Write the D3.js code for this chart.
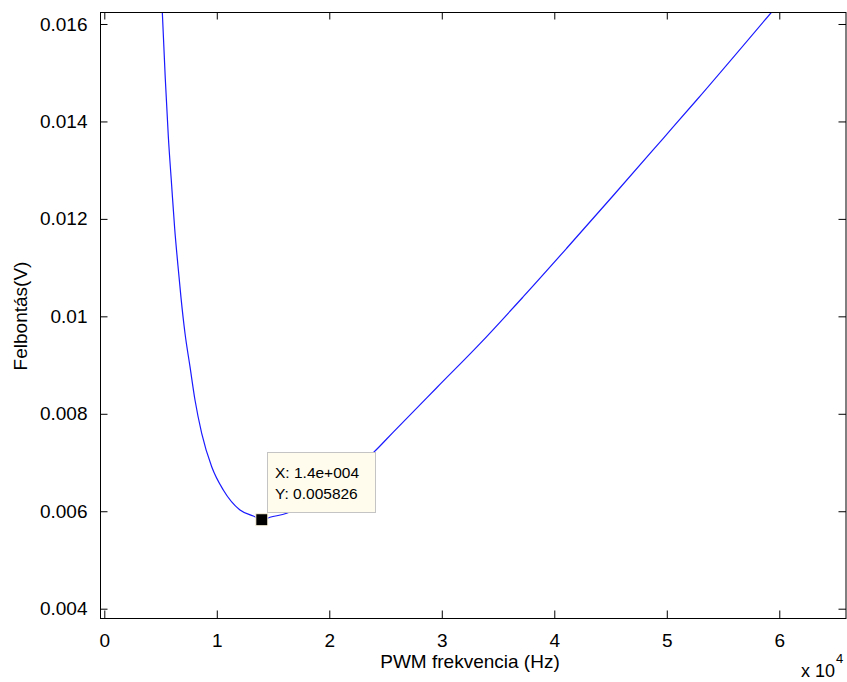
<!DOCTYPE html>
<html>
<head>
<meta charset="utf-8">
<script src="https://cdn.jsdelivr.net/npm/d3@7"></script>
<style>
  body { margin: 0; background: #ffffff; }
  svg { display: block; }
  text { font-family: "Liberation Sans", Arial, sans-serif; fill: #000; }
</style>
</head>
<body>
<svg id="chart" width="847" height="682"></svg>
<script>
// ---- data ----
const freqHz = [5156, 5422, 5689, 5991, 6258, 6551, 6818, 7173, 7618, 8062,
  8658, 9547, 10578, 12062, 13244, 14000, 14729, 16213, 20000, 23911, 25689,
  29547, 33396, 37244, 41102, 45244, 49689, 52658, 59324];
const resolutionV = [0.016246, 0.014877, 0.013701, 0.012675, 0.011799, 0.011033,
  0.010383, 0.009652, 0.008967, 0.008283, 0.0076, 0.006914, 0.006436, 0.006026,
  0.005903, 0.005826, 0.005876, 0.005958, 0.00655, 0.007202, 0.007625, 0.008535,
  0.00944, 0.010403, 0.011397, 0.01248, 0.013654, 0.01444, 0.016246];
const xTicks = [0, 10000, 20000, 30000, 40000, 50000, 60000];
const xTickLabels = ["0", "1", "2", "3", "4", "5", "6"];
const yTicks = [0.004, 0.006, 0.008, 0.010, 0.012, 0.014, 0.016];
const yTickLabels = ["0.004", "0.006", "0.008", "0.01", "0.012", "0.014", "0.016"];
const xDomain = [-382, 65930];
const yDomain = [0.003809, 0.016246];
const tipX = 14000, tipY = 0.005826;
const tipLines = ["X: 1.4e+004", "Y: 0.005826"];
const xLabel = "PWM frekvencia (Hz)";
const yLabel = "Felbontás(V)";

// ---- layout ----
const L = 100, R = 846, T = 12, B = 618;
const svg = d3.select("#chart");
const x = d3.scaleLinear().domain(xDomain).range([L, R]);
const y = d3.scaleLinear().domain(yDomain).range([B, T]);
const tickLen = 7.5;
const fs = 19;

svg.append("clipPath").attr("id", "clip")
  .append("rect").attr("x", L).attr("y", T).attr("width", R - L).attr("height", B - T);

// curve
const data = freqHz.map((f, i) => ({ f, v: resolutionV[i] }));
svg.append("path")
  .datum(data)
  .attr("clip-path", "url(#clip)")
  .attr("fill", "none")
  .attr("stroke", "#1a1aff")
  .attr("stroke-width", 1.2)
  .attr("d", d3.line().x(d => x(d.f)).y(d => y(d.v)).curve(d3.curveMonotoneX));

// axes (box with inward ticks)
const axB = d3.axisBottom(x).tickValues(xTicks).tickSize(-tickLen).tickPadding(tickLen + 8)
  .tickFormat((d, i) => xTickLabels[i]);
const axT = d3.axisTop(x).tickValues(xTicks).tickSize(-tickLen).tickFormat("");
const axL = d3.axisLeft(y).tickValues(yTicks).tickSize(-tickLen).tickPadding(tickLen + 5)
  .tickFormat((d, i) => yTickLabels[i]);
const axR = d3.axisRight(y).tickValues(yTicks).tickSize(-tickLen).tickFormat("");

function style(g) {
  g.select(".domain").remove();
  g.selectAll("line").attr("stroke", "#000").attr("stroke-width", 1);
  g.selectAll("text").style("font-size", fs + "px")
    .style("font-family", "'Liberation Sans', Arial, sans-serif").attr("fill", "#000");
}
svg.append("g").attr("transform", `translate(0,${B})`).call(axB).call(style);
svg.append("g").attr("transform", `translate(0,${T})`).call(axT).call(style);
svg.append("g").attr("transform", `translate(${L},0)`).call(axL).call(style);
svg.append("g").attr("transform", `translate(${R},0)`).call(axR).call(style);

// box frame
svg.append("rect").attr("x", L + 0.5).attr("y", T + 0.5)
  .attr("width", R - L - 0.5).attr("height", B - T)
  .attr("fill", "none").attr("stroke", "#000").attr("stroke-width", 1);

// axis labels
svg.append("text").attr("x", (L + R) / 2 - 3).attr("y", 668)
  .attr("text-anchor", "middle").style("font-size", fs + "px").text(xLabel);
svg.append("text").attr("transform", `translate(27,316) rotate(-90)`)
  .attr("text-anchor", "middle").style("font-size", fs + "px").text(yLabel);

// exponent
svg.append("text").attr("x", 835).attr("y", 677).attr("text-anchor", "end")
  .style("font-size", "18px").text("x 10");
svg.append("text").attr("x", 836).attr("y", 663).style("font-size", "13px").text("4");

// datatip
const tipG = svg.append("g");
tipG.append("rect").attr("x", 267.5).attr("y", 452.5).attr("width", 108).attr("height", 60)
  .attr("fill", "#fffcee").attr("stroke", "#c4c4c4").attr("stroke-width", 1);
tipG.selectAll("text.tip").data(tipLines).join("text")
  .attr("class", "tip").attr("x", 275).attr("y", (d, i) => 478 + i * 21)
  .style("font-size", "15.5px").text(d => d);
svg.append("rect")
  .attr("x", x(tipX) - 6).attr("y", y(tipY) - 6).attr("width", 12).attr("height", 12)
  .attr("fill", "#000").attr("stroke", "#fff8e0").attr("stroke-width", 1);
</script>
</body>
</html>
